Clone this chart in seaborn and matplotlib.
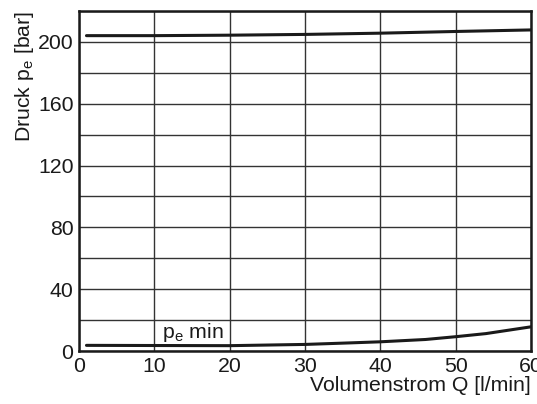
import numpy as np
import pandas as pd
import matplotlib
matplotlib.use('Agg')
import matplotlib.pyplot as plt
import seaborn as sns

# values
q_max = [1, 10, 20, 30, 40, 50, 60]
p_max = [204.0, 204.0, 204.3, 204.8, 205.6, 206.7, 207.7]

q_min = [1, 10, 20, 30, 36, 40, 46, 50, 54, 60]
p_min = [3.7, 3.6, 3.5, 4.3, 5.3, 6.0, 7.5, 9.3, 11.3, 15.7]

x_ticks = [0, 10, 20, 30, 40, 50, 60]
y_ticks = [0, 40, 80, 120, 160, 200]

sns.set_style('white')
plt.rcParams['font.family'] = ['Liberation Sans', 'DejaVu Sans']
plt.rcParams['mathtext.fontset'] = 'custom'
plt.rcParams['mathtext.rm'] = 'Liberation Sans'

df_max = pd.DataFrame({'Q': q_max, 'p': p_max})
df_min = pd.DataFrame({'Q': q_min, 'p': p_min})

fs = 15.3

fig, ax = plt.subplots(figsize=(5.37, 4.04), dpi=100)
fig.subplots_adjust(left=0.147, right=0.989, top=0.973, bottom=0.131)

sns.lineplot(data=df_max, x='Q', y='p', ax=ax, color='#1a1a1a', lw=2.2)
sns.lineplot(data=df_min, x='Q', y='p', ax=ax, color='#1a1a1a', lw=2.2)

ax.set_xlim(0, 60)
ax.set_ylim(0, 220)
ax.set_xticks(x_ticks)
ax.set_yticks(y_ticks)
ax.set_xticks(np.arange(0, 61, 10), minor=True)
ax.set_yticks(np.arange(0, 221, 20), minor=True)
ax.grid(which='both', color='#333333', lw=1.0)
ax.tick_params(which='both', length=0, labelsize=fs, colors='#1a1a1a', pad=4)

for s in ax.spines.values():
    s.set_color('#1a1a1a')
    s.set_linewidth(1.8)

ax.set_xlabel('Volumenstrom Q [l/min]', fontsize=fs, loc='right', labelpad=0, color='#1a1a1a')
ax.set_ylabel(r'Druck p$_\mathregular{e}$ [bar]', fontsize=fs, loc='top', labelpad=1, color='#1a1a1a')

ax.text(11, 8.4, r'p$_\mathregular{e}$ min', fontsize=fs, color='#1a1a1a')

fig.savefig('out.png', dpi=100)
